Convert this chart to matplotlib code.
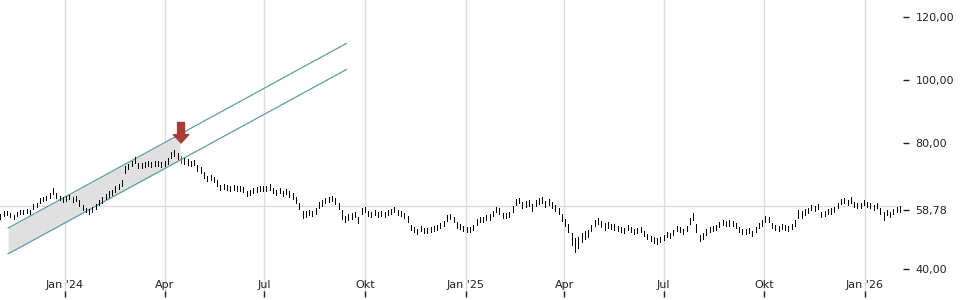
import matplotlib
matplotlib.use('Agg')
import matplotlib.pyplot as plt
import matplotlib.dates as mdates
import pandas as pd

# price bars, one every 3 calendar days starting 2023-11-03
start = '2023-11-03'
step = '3D'
lows = [
    56.0, 56.9, 57.1, 56.4, 55.8, 56.8, 57.5, 57.4, 57.8, 57.4,
    58.9, 59.6, 60.8, 61.6, 61.8, 62.4, 63.9, 62.4, 61.8, 61.4,
    61.7, 62.1, 61.4, 61.6, 60.0, 58.7, 58.0, 57.6, 58.0, 59.1,
    60.2, 61.1, 62.1, 63.0, 63.6, 64.5, 65.5, 66.4, 70.4, 71.6,
    72.7, 73.7, 72.0, 72.2, 72.5, 72.7, 72.5, 72.7, 72.8, 72.5,
    72.8, 73.4, 75.2, 75.9, 74.9, 73.8, 73.4, 73.1, 72.6, 72.9,
    71.0, 70.4, 69.0, 67.8, 68.1, 67.5, 66.4, 65.2, 65.5, 65.2,
    64.9, 65.2, 64.6, 64.9, 64.3, 63.3, 63.6, 64.0, 64.3, 64.6,
    64.6, 64.9, 65.2, 64.0, 63.6, 64.0, 63.3, 63.8, 63.0, 62.3,
    61.1, 58.9, 56.1, 56.6, 57.0, 56.7, 57.5, 59.4, 60.1, 60.8,
    61.4, 61.5, 60.7, 58.9, 55.9, 54.9, 55.6, 56.0, 56.4, 54.6,
    57.5, 58.0, 56.8, 56.5, 57.0, 56.5, 56.8, 56.5, 57.0, 57.3,
    58.2, 57.0, 56.7, 56.2, 54.9, 52.3, 51.6, 51.2, 51.9, 51.4,
    51.4, 51.8, 52.1, 52.4, 53.0, 53.5, 55.2, 56.0, 54.8, 53.1,
    52.7, 52.2, 51.8, 51.6, 52.4, 54.0, 54.8, 54.8, 55.4, 55.7,
    56.7, 58.1, 57.6, 56.1, 56.3, 56.5, 58.0, 60.2, 60.8, 59.4,
    59.7, 60.1, 58.3, 60.1, 60.7, 61.0, 59.7, 60.4, 59.4, 58.5,
    57.4, 55.1, 53.8, 51.6, 47.6, 45.5, 46.5, 48.6, 49.6, 50.3,
    52.0, 53.6, 54.2, 53.3, 52.5, 53.1, 52.6, 52.4, 52.2, 51.6,
    51.4, 52.3, 51.6, 51.2, 51.4, 51.8, 50.6, 49.5, 49.0, 48.4,
    47.9, 48.7, 49.2, 50.0, 49.7, 50.8, 52.1, 51.6, 51.2, 51.9,
    54.2, 55.6, 51.8, 48.8, 49.6, 50.9, 51.8, 52.1, 52.5, 53.2,
    54.1, 53.5, 53.8, 53.5, 53.0, 51.6, 51.2, 51.0, 51.4, 50.6,
    51.6, 53.0, 53.8, 55.0, 54.8, 53.0, 52.5, 52.2, 52.7, 52.4,
    52.1, 52.7, 53.8, 56.3, 56.3, 57.2, 57.8, 58.6, 58.4, 58.9,
    56.5, 56.8, 57.3, 57.6, 58.1, 59.2, 60.5, 60.8, 60.2, 61.1,
    59.8, 59.2, 59.5, 60.2, 59.8, 59.2, 58.6, 59.2, 57.4, 55.6,
    57.0, 56.5, 57.3, 58.0, 58.2,
]
highs = [
    57.6, 58.3, 58.5, 57.8, 57.2, 58.1, 58.8, 58.7, 59.1, 58.7,
    60.5, 61.1, 62.4, 63.0, 63.3, 64.0, 65.6, 64.0, 63.2, 62.9,
    63.2, 63.6, 63.0, 63.3, 61.8, 60.4, 59.5, 59.0, 59.6, 60.7,
    61.8, 62.7, 63.7, 64.6, 65.1, 66.2, 67.1, 68.2, 72.6, 73.4,
    74.3, 75.5, 73.6, 73.8, 74.1, 74.3, 74.0, 74.3, 74.3, 74.0,
    74.4, 75.2, 77.2, 77.8, 76.7, 76.0, 75.1, 74.8, 74.3, 74.6,
    72.9, 72.3, 70.9, 69.4, 69.7, 69.1, 68.2, 66.8, 67.1, 66.8,
    66.5, 66.8, 66.2, 66.5, 65.9, 64.9, 65.2, 65.6, 65.9, 66.2,
    66.2, 66.5, 66.9, 65.6, 65.2, 65.6, 64.9, 65.4, 64.6, 64.0,
    62.9, 61.1, 58.5, 58.4, 58.8, 58.5, 59.3, 61.2, 61.9, 62.4,
    63.0, 63.3, 62.5, 61.1, 58.7, 56.9, 57.4, 57.8, 58.2, 56.6,
    59.3, 59.8, 58.4, 58.1, 58.6, 58.1, 58.4, 58.1, 58.6, 58.9,
    59.8, 58.6, 58.3, 57.8, 56.9, 54.1, 53.2, 52.8, 53.5, 53.0,
    53.0, 53.4, 53.7, 54.0, 54.6, 55.1, 57.0, 57.6, 56.4, 54.9,
    54.3, 53.8, 53.4, 53.2, 54.0, 55.8, 56.4, 56.4, 57.0, 57.3,
    58.3, 59.7, 59.2, 57.7, 57.9, 58.1, 60.0, 62.2, 62.4, 61.2,
    61.5, 61.9, 60.5, 61.9, 62.5, 62.8, 61.5, 62.2, 61.2, 60.3,
    59.4, 57.3, 56.0, 54.4, 51.4, 49.7, 50.1, 51.4, 52.0, 52.5,
    54.0, 55.6, 56.2, 55.3, 54.5, 54.9, 54.4, 54.2, 53.8, 53.2,
    53.0, 54.1, 53.2, 52.8, 53.0, 53.4, 52.2, 51.1, 50.6, 50.0,
    49.9, 50.3, 50.8, 51.6, 51.3, 52.4, 53.7, 53.2, 52.8, 53.5,
    56.2, 57.8, 54.2, 50.8, 51.4, 52.7, 53.4, 53.7, 54.1, 54.8,
    55.7, 55.1, 55.4, 55.1, 54.6, 53.2, 52.8, 52.6, 53.0, 52.2,
    53.2, 54.6, 55.4, 56.8, 56.4, 54.6, 54.1, 53.8, 54.3, 54.0,
    53.7, 54.3, 55.4, 58.7, 58.3, 59.0, 59.4, 60.2, 60.0, 60.5,
    58.1, 58.4, 58.9, 59.2, 59.7, 60.8, 62.1, 62.4, 61.8, 62.7,
    61.4, 60.8, 61.1, 61.8, 61.4, 60.8, 60.2, 60.8, 59.4, 58.0,
    58.6, 58.1, 58.9, 59.8, 59.9,
]
last_close = 58.78

# trend channel and signal
channel_dates = ['2023-11-10', '2024-09-14']
channel_upper = [53.0, 111.6]
channel_lower = [44.8, 103.3]
fill_end = '2024-04-15'
signal_date = '2024-04-16'
arrow_tip = 80.0
arrow_tail = 86.5

tick_dates = ['2024-01-01', '2024-04-01', '2024-07-01', '2024-10-01', '2025-01-01',
              '2025-04-01', '2025-07-01', '2025-10-01', '2026-01-01']
tick_labels = ["Jan '24", 'Apr', 'Jul', 'Okt', "Jan '25", 'Apr', 'Jul', 'Okt', "Jan '26"]
price_ticks = [40, 80, 100, 120]
grid_levels = [40, 60, 80, 100, 120]

dates = pd.date_range(start, periods=len(lows), freq=step)
sig = pd.Timestamp(signal_date)
bar_colors = ['#b03a35' if d == sig else 'black' for d in dates]

fig = plt.figure(figsize=(9.6, 3), dpi=100)
ax = fig.add_axes([0, 0.01, 903 / 960, 0.99])

# grey channel area up to the signal
cx = mdates.date2num(pd.to_datetime(channel_dates))
fx = [cx[0], mdates.date2num(pd.Timestamp(fill_end))]
frac = (fx[1] - cx[0]) / (cx[1] - cx[0])
f_up = [channel_upper[0], channel_upper[0] + (channel_upper[1] - channel_upper[0]) * frac]
f_lo = [channel_lower[0], channel_lower[0] + (channel_lower[1] - channel_lower[0]) * frac]
ax.fill_between(fx, f_lo, f_up, color='#e0e0e0', lw=0, zorder=1)
ax.plot(cx, channel_upper, color='#5f9ea6', lw=0.9, zorder=2)
ax.plot(cx, channel_lower, color='#5f9ea6', lw=0.9, zorder=2)

ax.vlines(mdates.date2num(dates), lows, highs, colors=bar_colors, lw=0.6,
          antialiased=False, zorder=3)

sx = mdates.date2num(sig)
ax.annotate('', xy=(sx, arrow_tip), xytext=(sx, arrow_tail),
            arrowprops=dict(arrowstyle='simple,head_length=0.6,head_width=1.1,tail_width=0.5',
                            fc='#a63e38', ec='#a63e38', shrinkA=0, shrinkB=0, mutation_scale=10),
            zorder=4)

ax.set_xlim(mdates.date2num(pd.Timestamp('2023-11-02 14:00')),
            mdates.date2num(pd.Timestamp('2026-02-04 17:00')))
ax.set_ylim(31.1, 125.4)

ax.set_xticks(mdates.date2num(pd.to_datetime(tick_dates)))
ax.set_xticklabels(tick_labels)
ax.yaxis.tick_right()
yt = price_ticks + [last_close]
ax.set_yticks(yt)
ax.set_yticklabels([f'{v:.2f}'.replace('.', ',') for v in yt])
ax.set_yticks(grid_levels, minor=True)

ax.grid(axis='x', color='#dcdcdc', lw=1, zorder=0)
ax.grid(axis='y', which='minor', color='#dcdcdc', lw=1, zorder=0)
ax.set_axisbelow(True)
for s in ax.spines.values():
    s.set_visible(False)

ax.tick_params(axis='y', which='major', length=4, width=1, pad=5, labelsize=8, colors='#222222')
ax.tick_params(axis='y', which='minor', length=0)
ax.tick_params(axis='x', direction='in', length=4, width=1, pad=-12, labelsize=8, colors='#222222')

fig.savefig('out.png', dpi=100)
